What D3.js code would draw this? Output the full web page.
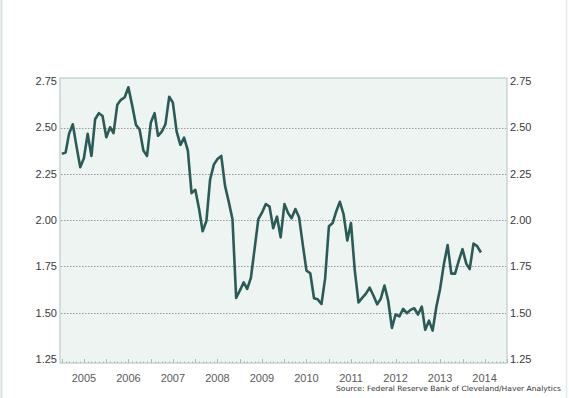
<!DOCTYPE html>
<html lang="en">
<head>
	<meta charset="utf-8">
	<title>D3</title>
	<style>
		body { margin: 0; background: #fff; }
		svg { display: block; font-family: "Liberation Sans", Arial, sans-serif; }
		.line { fill: none; stroke: #2b5b57; stroke-width: 2.6px; stroke-linejoin: round; }
		.grid { stroke: #9a9a9a; stroke-width: 1px; stroke-dasharray: 1.5,1.5; }
	</style>
</head>
<body>
	<div id="chart"></div>

	<script src="https://cdn.jsdelivr.net/npm/d3@7/dist/d3.min.js"></script>
	<script>
		// monthly series, Jan 2005 - Jun 2014
		var startYear = 2005;
		var values = [
			2.358, 2.365, 2.466, 2.518, 2.40, 2.286, 2.334, 2.466, 2.347, 2.545, 2.578, 2.563,
			2.448, 2.502, 2.47, 2.623, 2.65, 2.664, 2.718, 2.62, 2.515, 2.49, 2.376, 2.347,
			2.527, 2.578, 2.455, 2.478, 2.518, 2.667, 2.635, 2.478, 2.407, 2.446, 2.376, 2.146,
			2.164, 2.06, 1.94, 1.995, 2.218, 2.30, 2.33, 2.347, 2.185, 2.10, 2.005, 1.58,
			1.62, 1.664, 1.628, 1.688, 1.843, 2.005, 2.04, 2.087, 2.073, 1.956, 2.019, 1.907,
			2.087, 2.037, 2.01, 2.06, 2.016, 1.866, 1.727, 1.713, 1.578, 1.572, 1.547, 1.685,
			1.967, 1.985, 2.045, 2.099, 2.033, 1.89, 1.985, 1.73, 1.555, 1.58, 1.603, 1.635,
			1.593, 1.545, 1.575, 1.647, 1.566, 1.418, 1.49, 1.48, 1.52, 1.497, 1.515, 1.524,
			1.49, 1.533, 1.407, 1.457, 1.403, 1.533, 1.628, 1.762, 1.865, 1.711, 1.711, 1.78,
			1.843, 1.765, 1.735, 1.873, 1.86, 1.825
		];
		var yearLabels = ["2005", "2006", "2007", "2008", "2009", "2010", "2011", "2012", "2013", "2014"];
		var yTicks = [1.25, 1.50, 1.75, 2.00, 2.25, 2.50, 2.75];
		var gridTicks = [1.50, 1.75, 2.00, 2.25, 2.50];
		var source = "Source: Federal Reserve Bank of Cleveland/Haver Analytics";

		var W = 569, H = 398;
		var plot = {left: 60, right: 507, top: 78, bottom: 363};

		var data = values.map(function(v, i) {
			return {date: new Date(startYear, i, 1), value: v};
		});

		var x = d3.scaleTime()
			.domain([new Date(2004, 11, 17), new Date(2015, 0, 1)])
			.range([plot.left, plot.right]);
		var y = d3.scaleLinear()
			.domain([1.228, 2.768])
			.range([plot.bottom, plot.top]);

		var svg = d3.select("#chart")
			.append("svg")
			.attr("width", W)
			.attr("height", H);

		// faint page frame
		svg.append("line").attr("x1", 1.5).attr("x2", 1.5).attr("y1", 0).attr("y2", H)
			.attr("stroke", "#d9e3e3").attr("stroke-width", 2);
		svg.append("line").attr("x1", 566.5).attr("x2", 566.5).attr("y1", 0).attr("y2", H)
			.attr("stroke", "#e3eaea").attr("stroke-width", 1.5);

		// plot background
		svg.append("rect")
			.attr("x", plot.left)
			.attr("y", plot.top)
			.attr("width", plot.right - plot.left)
			.attr("height", plot.bottom - plot.top)
			.attr("fill", "#eef4f1")
			.attr("stroke", "#b9cccb")
			.attr("stroke-width", 1.2);

		// dotted gridlines
		svg.selectAll(".grid")
			.data(gridTicks)
			.enter().append("line")
			.attr("class", "grid")
			.attr("x1", plot.left + 1)
			.attr("x2", plot.right - 1)
			.attr("y1", function(d) { return Math.round(y(d)) + 0.5; })
			.attr("y2", function(d) { return Math.round(y(d)) + 0.5; });

		// bottom month ticks
		var months = x.ticks(d3.timeMonth.every(1)).filter(function(d) { return d >= new Date(2005, 0, 1); });
		svg.selectAll(".mtick")
			.data(months)
			.enter().append("line")
			.attr("x1", function(d) { return Math.round(x(d)) + 0.5; })
			.attr("x2", function(d) { return Math.round(x(d)) + 0.5; })
			.attr("y1", plot.bottom)
			.attr("y2", function(d) { return plot.bottom - (d.getMonth() % 6 === 0 ? 4 : 1.5); })
			.attr("stroke", "#a9b9b8")
			.attr("stroke-width", 1);

		// left and right axis labels
		svg.selectAll(".ylab-l")
			.data(yTicks)
			.enter().append("text")
			.attr("x", 57)
			.attr("y", function(d) { return y(d); })
			.attr("dy", "0.35em")
			.attr("text-anchor", "end")
			.attr("font-size", 11)
			.attr("fill", "#3a3a3a")
			.text(function(d) { return d.toFixed(2); });

		svg.selectAll(".ylab-r")
			.data(yTicks)
			.enter().append("text")
			.attr("x", 510)
			.attr("y", function(d) { return y(d); })
			.attr("dy", "0.35em")
			.attr("text-anchor", "start")
			.attr("font-size", 11)
			.attr("fill", "#3a3a3a")
			.text(function(d) { return d.toFixed(2); });

		// year labels at mid-year
		svg.selectAll(".xlab")
			.data(yearLabels)
			.enter().append("text")
			.attr("x", function(d) { return x(new Date(+d, 6, 1)); })
			.attr("y", 382)
			.attr("text-anchor", "middle")
			.attr("font-size", 11)
			.attr("fill", "#5a5a5a")
			.text(function(d) { return d; });

		// the series
		var line = d3.line()
			.x(function(d) { return x(d.date); })
			.y(function(d) { return y(d.value); });

		svg.append("path")
			.datum(data)
			.attr("class", "line")
			.attr("d", line);

		// source note
		svg.append("text")
			.attr("x", 561)
			.attr("y", 391)
			.attr("text-anchor", "end")
			.attr("font-family", "'DejaVu Sans', Verdana, sans-serif")
			.attr("font-size", 7.2)
			.attr("fill", "#333")
			.attr("textLength", 225)
			.attr("lengthAdjust", "spacingAndGlyphs")
			.text(source);
	</script>
</body>
</html>
